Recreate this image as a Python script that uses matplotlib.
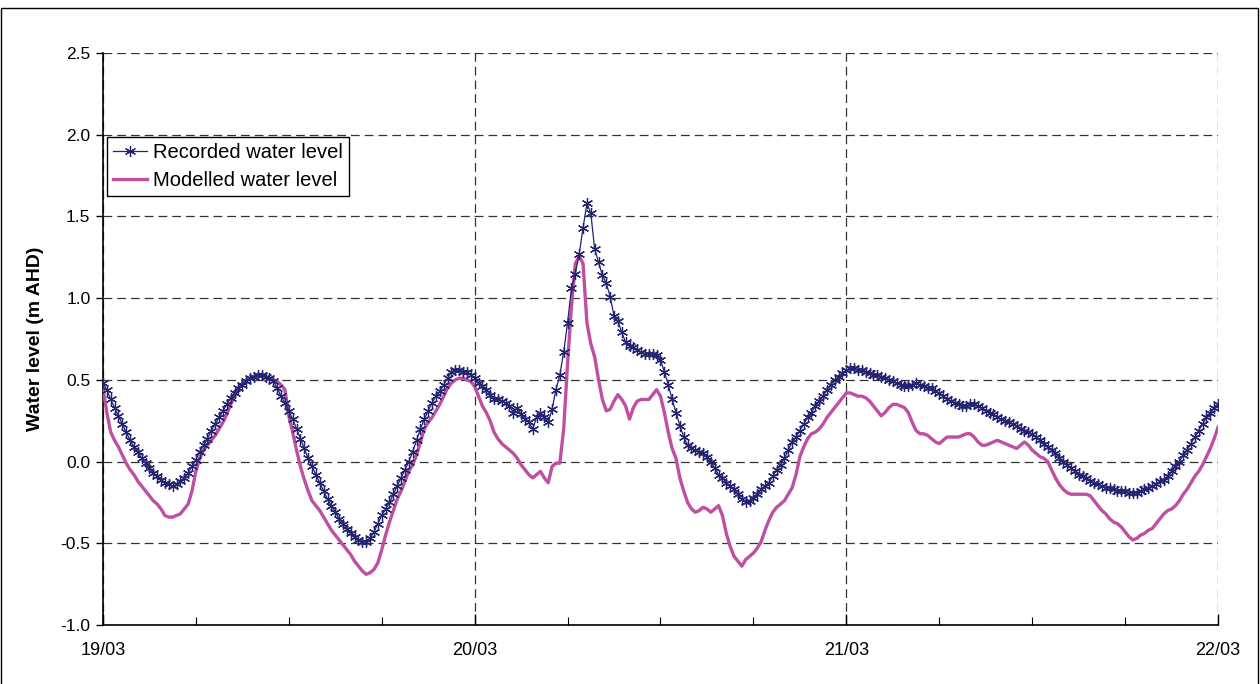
import numpy as np
import pandas as pd
import matplotlib
matplotlib.use("Agg")
import matplotlib.pyplot as plt
import matplotlib.dates as mdates
from matplotlib.patches import Rectangle

plt.rcParams['font.family'] = ['Liberation Sans', 'DejaVu Sans']

# 15-minute readings from 19/03 00:00 to 22/03 00:00
start = "2000-03-19 00:00"
n_steps = 289

# Recorded water level (m AHD), 4 readings per hour
recorded = [
    0.48, 0.44, 0.38, 0.33,   0.28, 0.23, 0.18, 0.13,   0.09, 0.06, 0.02, -0.01,
    -0.04, -0.07, -0.09, -0.11,   -0.13, -0.14, -0.15, -0.14,   -0.12, -0.10, -0.07, -0.03,
    0.01, 0.06, 0.10, 0.14,   0.19, 0.23, 0.27, 0.31,   0.35, 0.39, 0.42, 0.45,
    0.47, 0.49, 0.51, 0.52,   0.53, 0.53, 0.52, 0.51,   0.49, 0.45, 0.40, 0.36,
    0.31, 0.26, 0.20, 0.14,   0.08, 0.02, -0.03, -0.08,   -0.13, -0.18, -0.23, -0.27,
    -0.31, -0.35, -0.38, -0.41,   -0.44, -0.46, -0.48, -0.49,   -0.49, -0.47, -0.43, -0.38,
    -0.33, -0.29, -0.25, -0.20,   -0.15, -0.10, -0.05, 0.00,   0.06, 0.13, 0.20, 0.26,
    0.31, 0.36, 0.40, 0.43,   0.47, 0.51, 0.55, 0.56,   0.56, 0.55, 0.55, 0.53,
    0.51, 0.48, 0.46, 0.44,   0.41, 0.38, 0.38, 0.37,   0.36, 0.34, 0.30, 0.33,
    0.29, 0.26, 0.24, 0.20,   0.27, 0.30, 0.27, 0.24,   0.32, 0.44, 0.53, 0.67,
    0.85, 1.06, 1.15, 1.27,   1.43, 1.58, 1.52, 1.30,   1.22, 1.14, 1.09, 1.01,
    0.89, 0.86, 0.79, 0.73,   0.71, 0.70, 0.68, 0.67,   0.66, 0.66, 0.66, 0.65,
    0.62, 0.55, 0.47, 0.38,   0.30, 0.22, 0.15, 0.10,   0.08, 0.07, 0.06, 0.05,
    0.03, 0.00, -0.04, -0.08,   -0.10, -0.13, -0.15, -0.17,   -0.20, -0.23, -0.25, -0.24,
    -0.22, -0.20, -0.17, -0.15,   -0.13, -0.09, -0.05, -0.02,   0.02, 0.07, 0.12, 0.15,
    0.19, 0.23, 0.27, 0.30,   0.34, 0.37, 0.40, 0.44,   0.47, 0.50, 0.52, 0.54,
    0.56, 0.57, 0.57, 0.56,   0.56, 0.55, 0.54, 0.53,   0.53, 0.52, 0.51, 0.50,
    0.49, 0.48, 0.47, 0.46,   0.46, 0.47, 0.48, 0.47,   0.46, 0.45, 0.45, 0.43,
    0.42, 0.40, 0.38, 0.37,   0.36, 0.35, 0.34, 0.34,   0.35, 0.35, 0.34, 0.33,
    0.31, 0.30, 0.29, 0.27,   0.26, 0.25, 0.24, 0.23,   0.22, 0.20, 0.19, 0.18,
    0.17, 0.15, 0.13, 0.11,   0.09, 0.07, 0.05, 0.02,   0.00, -0.02, -0.04, -0.06,
    -0.08, -0.09, -0.10, -0.12,   -0.13, -0.14, -0.15, -0.16,   -0.16, -0.17, -0.18, -0.18,
    -0.18, -0.19, -0.19, -0.19,   -0.18, -0.17, -0.16, -0.15,   -0.14, -0.12, -0.11, -0.09,
    -0.06, -0.03, 0.00, 0.04,   0.07, 0.11, 0.15, 0.19,   0.23, 0.27, 0.30, 0.33,
    0.35,
]

# Modelled water level (m AHD), same time steps
modelled = [
    0.45, 0.30, 0.18, 0.13,   0.09, 0.04, -0.01, -0.05,   -0.08, -0.12, -0.15, -0.18,
    -0.21, -0.24, -0.26, -0.29,   -0.33, -0.34, -0.34, -0.33,   -0.32, -0.29, -0.26, -0.18,
    -0.06, 0.02, 0.07, 0.10,   0.13, 0.16, 0.20, 0.24,   0.29, 0.35, 0.41, 0.45,
    0.48, 0.50, 0.51, 0.52,   0.53, 0.53, 0.52, 0.51,   0.50, 0.49, 0.47, 0.44,
    0.28, 0.18, 0.07, -0.03,   -0.11, -0.18, -0.24, -0.27,   -0.30, -0.34, -0.38, -0.42,
    -0.45, -0.48, -0.51, -0.54,   -0.57, -0.61, -0.64, -0.67,   -0.69, -0.68, -0.66, -0.62,
    -0.54, -0.45, -0.37, -0.30,   -0.23, -0.18, -0.12, -0.06,   -0.02, 0.04, 0.12, 0.20,
    0.24, 0.27, 0.31, 0.35,   0.40, 0.45, 0.48, 0.50,   0.51, 0.51, 0.50, 0.49,
    0.46, 0.40, 0.34, 0.30,   0.25, 0.18, 0.14, 0.11,   0.09, 0.07, 0.05, 0.02,
    -0.02, -0.05, -0.08, -0.10,   -0.08, -0.06, -0.10, -0.13,   -0.03, -0.01, -0.01, 0.20,
    0.60, 0.95, 1.21, 1.26,   1.21, 0.85, 0.72, 0.64,   0.50, 0.38, 0.31, 0.32,
    0.37, 0.41, 0.38, 0.34,   0.26, 0.33, 0.37, 0.38,   0.38, 0.38, 0.41, 0.44,
    0.40, 0.30, 0.18, 0.08,   0.02, -0.10, -0.18, -0.25,   -0.29, -0.31, -0.30, -0.28,
    -0.29, -0.31, -0.29, -0.27,   -0.33, -0.44, -0.52, -0.58,   -0.61, -0.64, -0.60, -0.58,
    -0.56, -0.53, -0.49, -0.42,   -0.36, -0.31, -0.28, -0.26,   -0.24, -0.20, -0.16, -0.08,
    0.03, 0.09, 0.14, 0.17,   0.18, 0.20, 0.23, 0.27,   0.30, 0.33, 0.36, 0.39,
    0.42, 0.42, 0.41, 0.40,   0.40, 0.39, 0.37, 0.34,   0.31, 0.28, 0.30, 0.33,
    0.35, 0.35, 0.34, 0.33,   0.30, 0.24, 0.19, 0.17,   0.17, 0.16, 0.14, 0.12,
    0.11, 0.13, 0.15, 0.15,   0.15, 0.15, 0.16, 0.17,   0.17, 0.15, 0.12, 0.10,
    0.10, 0.11, 0.12, 0.13,   0.12, 0.11, 0.10, 0.09,   0.08, 0.10, 0.12, 0.10,
    0.07, 0.05, 0.03, 0.02,   0.00, -0.05, -0.10, -0.14,   -0.17, -0.19, -0.20, -0.20,
    -0.20, -0.20, -0.20, -0.21,   -0.24, -0.27, -0.30, -0.32,   -0.35, -0.37, -0.38, -0.40,
    -0.43, -0.46, -0.48, -0.47,   -0.45, -0.44, -0.42, -0.41,   -0.38, -0.35, -0.32, -0.30,
    -0.29, -0.27, -0.24, -0.20,   -0.17, -0.13, -0.09, -0.06,   -0.02, 0.03, 0.08, 0.14,
    0.21,
]

y_ticks = [-1.0, -0.5, 0.0, 0.5, 1.0, 1.5, 2.0, 2.5]
series_labels = ["Recorded water level", "Modelled water level"]
y_label = "Water level (m AHD)"

times = pd.date_range(start, periods=n_steps, freq="15min")

fig = plt.figure(figsize=(12.6, 6.84), dpi=100)
ax = fig.add_axes([0.0817, 0.0863, 0.885, 0.8362])

# outer chart border
fig.patches.append(Rectangle((0.0008, -0.05), 0.9976, 1.0383, transform=fig.transFigure,
                             fill=False, edgecolor="black", linewidth=1.0))

ax.plot(times, recorded, color="#23236f", linewidth=0.9, marker=(6, 2, 0),
        markersize=8, markeredgewidth=0.9, label=series_labels[0], zorder=4)
ax.plot(times, modelled, color="#bf4fa3", linewidth=2.4, label=series_labels[1], zorder=3)

ax.set_xlim(times[0], times[-1])
ax.set_ylim(y_ticks[0], y_ticks[-1])
ax.set_yticks(y_ticks)
ax.yaxis.set_major_formatter(matplotlib.ticker.FormatStrFormatter("%.1f"))

ax.xaxis.set_major_locator(mdates.DayLocator())
ax.xaxis.set_minor_locator(mdates.HourLocator(byhour=[6, 12, 18]))
ax.xaxis.set_major_formatter(mdates.DateFormatter("%d/%m"))

ax.grid(True, which="major", axis="both", color="#333333", linestyle=(0, (7, 4)), linewidth=0.9)
ax.set_axisbelow(True)
for side in ("top", "right"):
    ax.spines[side].set_visible(False)
for side in ("left", "bottom"):
    ax.spines[side].set_linewidth(1.2)

ax.tick_params(axis="y", direction="out", length=5, width=1, labelsize=12.5, pad=4)
ax.tick_params(axis="x", which="major", direction="in", length=8, width=1, labelsize=13, pad=12)
ax.tick_params(axis="x", which="minor", direction="in", length=6, width=0.8)

ax.set_ylabel(y_label, fontsize=14, fontweight="bold", labelpad=12)

leg = ax.legend(loc="upper left", bbox_to_anchor=(-0.002, 0.864), fontsize=14.5,
                frameon=True, fancybox=False, edgecolor="black", framealpha=1,
                handlelength=1.7, borderpad=0.3, labelspacing=0.45, handletextpad=0.3,
                borderaxespad=0.3)
leg.get_frame().set_linewidth(1.0)

fig.savefig("out.png", dpi=100)
